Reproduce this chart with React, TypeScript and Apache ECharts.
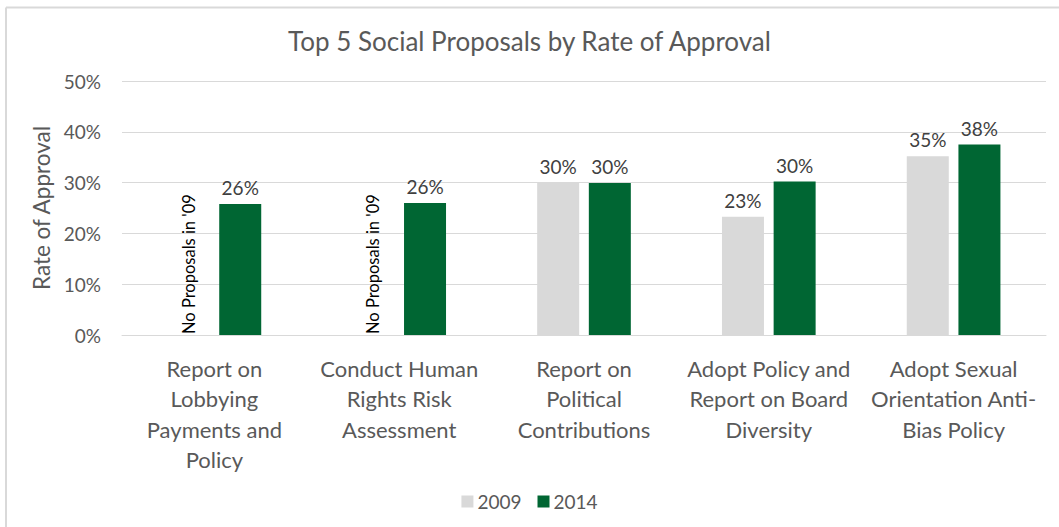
import React, { useEffect, useRef } from "react";
import * as echarts from "echarts";

const categories = [
  "Report on\nLobbying\nPayments and\nPolicy",
  "Conduct Human\nRights Risk\nAssessment",
  "Report on\nPolitical\nContributions",
  "Adopt Policy and\nReport on Board\nDiversity",
  "Adopt Sexual\nOrientation Anti-\nBias Policy",
];
const values2009: (number | null)[] = [null, null, 30.0, 23.3, 35.2];
const values2014: number[] = [25.8, 26.0, 29.9, 30.2, 37.5];
const yTicks = [0, 10, 20, 30, 40, 50];
const noDataNote = "No Proposals in '09";
const seriesNames = ["2009", "2014"];
const titleText = "Top 5 Social Proposals by Rate of Approval";
const yAxisTitle = "Rate of Approval";

const FONT = "Lato";

export default function App() {
  const ref = useRef<HTMLDivElement>(null);
  useEffect(() => {
    if (!ref.current) return;
    const chart = echarts.init(ref.current, undefined, { renderer: "svg" });
    const dataLabel = {
      show: true,
      position: "top",
      distance: 7,
      color: "#404040",
      fontSize: 19,
      fontFamily: FONT,
      formatter: (p: any) => `${Math.round(p.value)}%`,
    };
    const data2009 = values2009.map((v) =>
      v === null
        ? {
            value: 0,
            label: {
              show: true,
              position: "insideBottom",
              rotate: 90,
              align: "left",
              verticalAlign: "middle",
              distance: 7,
              offset: [-6, 0],
              color: "#000000",
              fontSize: 16.5,
              fontFamily: FONT,
              formatter: noDataNote,
            },
          }
        : v
    );
    chart.setOption({
      animation: false,
      backgroundColor: "#ffffff",
      title: {
        text: titleText,
        left: "center",
        top: 23,
        textStyle: { color: "#595959", fontSize: 26, fontWeight: "normal", fontFamily: FONT },
      },
      legend: {
        bottom: 11,
        left: "center",
        itemWidth: 12,
        itemHeight: 12,
        itemGap: 16,
        icon: "rect",
        textStyle: { color: "#595959", fontSize: 19, fontFamily: FONT, padding: [0, 0, 0, -1] },
        data: seriesNames,
      },
      grid: { left: 122, right: 13, top: 81, bottom: 192, containLabel: false },
      xAxis: {
        type: "category",
        data: categories,
        axisLine: { lineStyle: { color: "#d9d9d9", width: 1 } },
        axisTick: { show: false },
        axisLabel: {
          color: "#595959",
          fontSize: 22,
          fontFamily: FONT,
          lineHeight: 30.5,
          margin: 18,
          interval: 0,
        },
      },
      yAxis: {
        type: "value",
        min: yTicks[0],
        max: yTicks[yTicks.length - 1],
        interval: yTicks[1] - yTicks[0],
        name: yAxisTitle,
        nameLocation: "middle",
        nameGap: 65,
        nameTextStyle: { color: "#595959", fontSize: 22.5, fontFamily: FONT },
        axisLine: { show: false },
        axisTick: { show: false },
        splitLine: { lineStyle: { color: "#d9d9d9", width: 1 } },
        axisLabel: {
          color: "#595959",
          fontSize: 19,
          fontFamily: FONT,
          margin: 21,
          formatter: (v: number) => `${v}%`,
        },
      },
      series: [
        {
          name: seriesNames[0],
          type: "bar",
          data: data2009,
          barWidth: 42,
          barGap: "23%",
          itemStyle: { color: "#d9d9d9" },
          label: dataLabel,
        },
        {
          name: seriesNames[1],
          type: "bar",
          data: values2014,
          barWidth: 42,
          itemStyle: { color: "#006633" },
          label: dataLabel,
        },
      ],
      graphic: [
        { type: "line", shape: { x1: 6, y1: 7.5, x2: 1059, y2: 7.5 }, style: { stroke: "#d9d9d9", lineWidth: 2 } },
        { type: "line", shape: { x1: 6, y1: 7.5, x2: 6, y2: 527 }, style: { stroke: "#d9d9d9", lineWidth: 2 } },
      ],
    });
    return () => chart.dispose();
  }, []);
  return (
    <div
      ref={ref}
      style={{ position: "fixed", left: 0, top: 0, width: 1059, height: 527 }}
    />
  );
}
